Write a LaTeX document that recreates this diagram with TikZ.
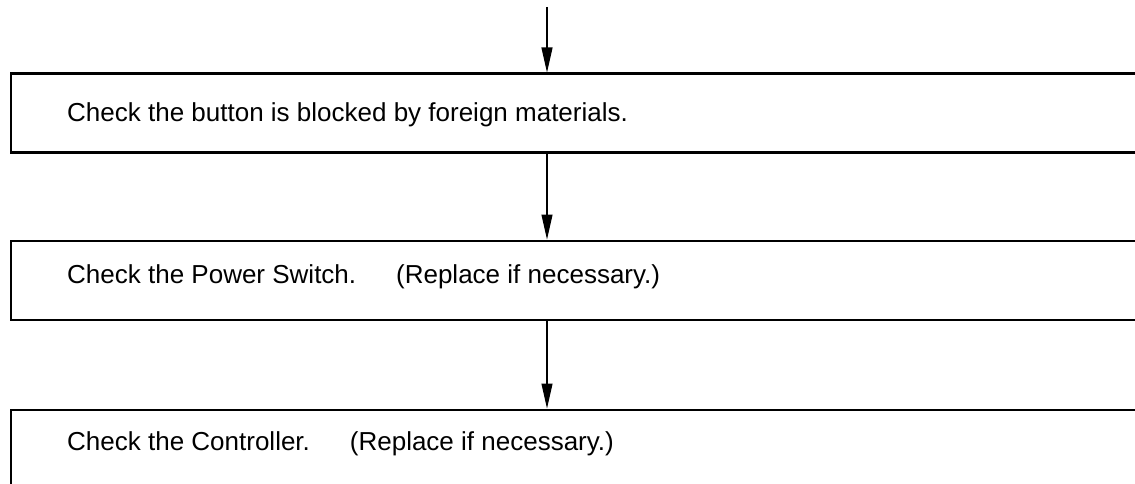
\documentclass[tikz,border=0pt]{standalone}
\usepackage{fontspec}
\setmainfont{Liberation Sans}
\usetikzlibrary{arrows.meta}
\tikzset{
	checkbox/.style={draw, line width=2.4pt, minimum width=1160pt, minimum height=79pt, anchor=north west, inner sep=0pt},
	checktext/.style={anchor=base west, inner sep=0pt, font=\fontsize{26pt}{30pt}\selectfont},
	flow/.style={line width=1.1pt, -{Triangle[length=25pt,width=11pt]}}
}
\newcommand{\replacegap}{\hspace{40pt}}
\begin{document}
\begin{tikzpicture}[x=1pt,y=-1pt]
		\useasboundingbox (0,0) rectangle (1135,484);
		\clip (0,0) rectangle (1135,484);
		\node[checkbox] (button) at (10,72.5) {};
		\node[checkbox] (switch) at (10,239.5) {};
		\node[checkbox] (controller) at (10,408.5) {};
		\node[checktext] (buttontext) at (67,121.5) {Check the button is blocked by foreign materials.};
		\node[checktext] (switchtext) at (67,283.5) {Check the Power Switch.\replacegap(Replace if necessary.)};
		\node[checktext] (controllertext) at (67,450) {Check the Controller.\replacegap(Replace if necessary.)};
		
		\coordinate (in) at (547,7);
		\draw[flow] (in) -- (in |- button.north);
		\draw[flow] (in |- button.south) -- (in |- switch.north);
		\draw[flow] (in |- switch.south) -- (in |- controller.north);
\end{tikzpicture}
\end{document}
